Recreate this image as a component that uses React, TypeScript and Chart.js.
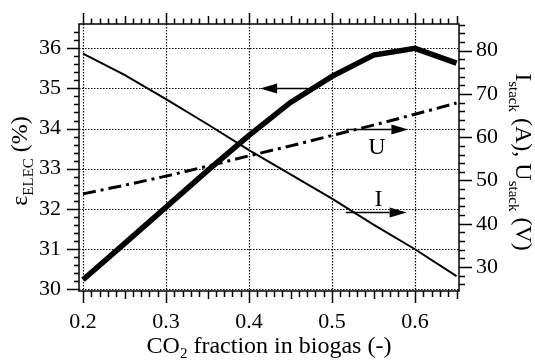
import React, { useEffect, useRef } from "react";
import { Chart, registerables } from "chart.js";

Chart.register(...registerables);

// ---- data ----
const co2Fraction = [0.2, 0.25, 0.3, 0.35, 0.4, 0.45, 0.5, 0.55, 0.6, 0.65];
const efficiency = [30.23, 31.13, 32.04, 32.95, 33.83, 34.65, 35.3, 35.83, 36.0, 35.63];
const stackCurrent = [79.3, 74.4, 68.8, 63.0, 57.0, 51.4, 45.8, 39.8, 34.1, 27.9];
const stackVoltage = [46.9, 48.9, 51.0, 53.3, 55.7, 58.0, 60.4, 62.8, 65.3, 67.9];

const xTicks = [0.2, 0.3, 0.4, 0.5, 0.6];
const leftTicks = [30, 31, 32, 33, 34, 35, 36];
const rightTicks = [30, 40, 50, 60, 70, 80];

// arrows: [yValue on left axis, xTail, xTip]
const arrowE = [35.0, 0.471, 0.4134];
const arrowU = [34.0, 0.517, 0.592];
const arrowI = [31.92, 0.5166, 0.59];
// labels: [text, x, baseline y on left axis]
const labelU: [string, number, number] = ["U", 0.554, 33.36];
const labelI: [string, number, number] = ["I", 0.556, 32.08];

const X_MIN = 0.19518;
const X_MAX = 0.653;
const YL_MIN = 29.95;
const YL_MAX = 36.606;
const YR_MIN = 24.45;
const YR_MAX = 86.17;

const FONT = "'Liberation Serif', 'Times New Roman', serif";

type Part = { t: string; sub?: boolean };

function drawRich(ctx: CanvasRenderingContext2D, parts: Part[], main: number, sub: number, shift: number) {
  const mf = `${main}px ${FONT}`;
  const sf = `${sub}px ${FONT}`;
  let total = 0;
  for (const p of parts) {
    ctx.font = p.sub ? sf : mf;
    total += ctx.measureText(p.t).width;
  }
  let x = -total / 2;
  ctx.textAlign = "left";
  ctx.textBaseline = "alphabetic";
  for (const p of parts) {
    ctx.font = p.sub ? sf : mf;
    ctx.fillText(p.t, x, p.sub ? shift : 0);
    x += ctx.measureText(p.t).width;
  }
}

function seg(ctx: CanvasRenderingContext2D, x1: number, y1: number, x2: number, y2: number) {
  ctx.beginPath();
  ctx.moveTo(x1, y1);
  ctx.lineTo(x2, y2);
  ctx.stroke();
}

function arrow(ctx: CanvasRenderingContext2D, xt: number, xh: number, y: number) {
  const dir = xh > xt ? 1 : -1;
  const headLen = 17;
  const headHalf = 5;
  ctx.lineWidth = 1.5;
  seg(ctx, xt, y, xh - dir * headLen, y);
  ctx.beginPath();
  ctx.moveTo(xh, y);
  ctx.lineTo(xh - dir * headLen, y - headHalf);
  ctx.lineTo(xh - dir * headLen, y + headHalf);
  ctx.closePath();
  ctx.fill();
}

const framePlugin = {
  id: "framePlugin",
  beforeDatasetsDraw(chart: any) {
    const { ctx, chartArea: a, scales } = chart;
    const xs = scales.x;
    const yl = scales.yL;
    ctx.save();
    ctx.strokeStyle = "#000";
    ctx.lineWidth = 1.2;
    ctx.setLineDash([1.5, 1.5]);
    for (const v of xTicks) {
      const px = Math.round(xs.getPixelForValue(v)) + 0.5;
      seg(ctx, px, a.top, px, a.bottom);
    }
    for (const v of leftTicks) {
      const py = Math.round(yl.getPixelForValue(v)) + 0.5;
      seg(ctx, a.left, py, a.right, py);
    }
    ctx.restore();
  },
  afterDatasetsDraw(chart: any) {
    const { ctx, chartArea: a, scales } = chart;
    const xs = scales.x;
    const yl = scales.yL;
    const yr = scales.yR;
    ctx.save();
    ctx.strokeStyle = "#000";
    ctx.fillStyle = "#000";
    ctx.setLineDash([]);
    ctx.lineWidth = 1.5;
    ctx.strokeRect(a.left, a.top, a.right - a.left, a.bottom - a.top);

    // x ticks, bottom and top
    for (let k = 20; k <= 65; k++) {
      const v = k / 100;
      const px = Math.round(xs.getPixelForValue(v)) + 0.5;
      const major = k % 10 === 0;
      const mid = k % 5 === 0;
      const lb = major ? 12 : mid ? 8 : 6;
      const lt = major ? 11 : mid ? 8 : 5.5;
      seg(ctx, px, a.bottom, px, a.bottom + lb);
      seg(ctx, px, a.top, px, a.top - lt);
    }
    // left ticks
    for (let k = 150; k <= 184; k++) {
      const v = k / 5;
      if (v < YL_MIN || v > YL_MAX - 0.05) continue;
      const py = Math.round(yl.getPixelForValue(v)) + 0.5;
      const len = k % 5 === 0 ? 12 : 5;
      seg(ctx, a.left - len, py, a.left, py);
    }
    // right ticks
    for (let k = 13; k <= 43; k++) {
      const v = k * 2;
      if (v < YR_MIN || v > YR_MAX) continue;
      const py = Math.round(yr.getPixelForValue(v)) + 0.5;
      const len = v % 10 === 0 ? 13 : 6;
      seg(ctx, a.right, py, a.right + len, py);
    }

    // arrows
    for (const ar of [arrowE, arrowU, arrowI]) {
      const y = Math.round(yl.getPixelForValue(ar[0])) + 0.5;
      arrow(ctx, xs.getPixelForValue(ar[1]), xs.getPixelForValue(ar[2]), y);
    }
    ctx.font = `24px ${FONT}`;
    ctx.textAlign = "center";
    ctx.textBaseline = "alphabetic";
    for (const lb of [labelU, labelI]) {
      ctx.fillText(lb[0], xs.getPixelForValue(lb[1]), yl.getPixelForValue(lb[2]));
    }
    ctx.restore();
  },
  afterDraw(chart: any) {
    const { ctx } = chart;
    ctx.save();
    ctx.fillStyle = "#000";
    // bottom title
    ctx.save();
    ctx.translate(269, 353);
    drawRich(ctx, [{ t: "CO" }, { t: "2", sub: true }, { t: " fraction in biogas (-)" }], 24, 15, 5);
    ctx.restore();
    // left title
    ctx.save();
    ctx.translate(27, 161);
    ctx.rotate(-Math.PI / 2);
    drawRich(ctx, [{ t: "\u03B5" }, { t: "ELEC", sub: true }, { t: " (%)" }], 24, 15, 6);
    ctx.restore();
    // right title
    ctx.save();
    ctx.translate(516, 162);
    ctx.rotate(Math.PI / 2);
    drawRich(
      ctx,
      [{ t: "I" }, { t: "stack", sub: true }, { t: " (A), U" }, { t: "stack", sub: true }, { t: " (V)" }],
      24,
      15,
      7
    );
    ctx.restore();
    ctx.restore();
  },
};

export default function App() {
  const ref = useRef<HTMLCanvasElement | null>(null);

  useEffect(() => {
    if (!ref.current) return;
    const tickFont = { family: FONT, size: 22 };
    const zeroPad = (s: any) => {
      s.paddingTop = 0;
      s.paddingBottom = 0;
      s.paddingLeft = 0;
      s.paddingRight = 0;
    };
    const chart = new Chart(ref.current, {
      type: "line",
      data: {
        datasets: [
          {
            label: "efficiency",
            data: co2Fraction.map((x, i) => ({ x, y: efficiency[i] })),
            yAxisID: "yL",
            borderColor: "#000",
            borderWidth: 5.5,
            pointRadius: 0,
            tension: 0,
          },
          {
            label: "current",
            data: co2Fraction.map((x, i) => ({ x, y: stackCurrent[i] })),
            yAxisID: "yR",
            borderColor: "#000",
            borderWidth: 2,
            pointRadius: 0,
            tension: 0,
          },
          {
            label: "voltage",
            data: co2Fraction.map((x, i) => ({ x, y: stackVoltage[i] })),
            yAxisID: "yR",
            borderColor: "#000",
            borderWidth: 3,
            borderDash: [13, 5, 3, 5],
            pointRadius: 0,
            tension: 0,
          },
        ],
      },
      options: {
        responsive: false,
        animation: false,
        layout: { padding: { top: 24, left: 0, right: 0, bottom: 0 } },
        plugins: { legend: { display: false }, tooltip: { enabled: false } },
        scales: {
          x: {
            type: "linear",
            position: "bottom",
            min: X_MIN,
            max: X_MAX,
            grid: { display: false, drawTicks: false },
            border: { display: false },
            ticks: {
              font: tickFont,
              color: "#000",
              padding: 18,
              maxRotation: 0,
              autoSkip: false,
              callback: (v: any) => Number(v).toFixed(1),
            },
            afterBuildTicks: (s: any) => {
              s.ticks = xTicks.map((v) => ({ value: v }));
            },
            afterFit: (s: any) => {
              s.height = 69;
              zeroPad(s);
            },
          },
          yL: {
            type: "linear",
            position: "left",
            min: YL_MIN,
            max: YL_MAX,
            grid: { display: false, drawTicks: false },
            border: { display: false },
            ticks: { font: tickFont, color: "#000", padding: 18, autoSkip: false, callback: (v: any) => String(v) },
            afterBuildTicks: (s: any) => {
              s.ticks = leftTicks.map((v) => ({ value: v }));
            },
            afterFit: (s: any) => {
              s.width = 79;
              zeroPad(s);
            },
          },
          yR: {
            type: "linear",
            position: "right",
            min: YR_MIN,
            max: YR_MAX,
            grid: { display: false, drawTicks: false },
            border: { display: false },
            ticks: { font: tickFont, color: "#000", padding: 17, autoSkip: false, callback: (v: any) => String(v) },
            afterBuildTicks: (s: any) => {
              s.ticks = rightTicks.map((v) => ({ value: v }));
            },
            afterFit: (s: any) => {
              s.width = 76;
              zeroPad(s);
            },
          },
        },
      },
      plugins: [framePlugin],
    } as any);
    return () => chart.destroy();
  }, []);

  return (
    <div style={{ position: "fixed", left: 0, top: 0, width: 535, height: 360, background: "#fff" }}>
      <canvas ref={ref} width={535} height={360} style={{ display: "block" }} />
    </div>
  );
}
